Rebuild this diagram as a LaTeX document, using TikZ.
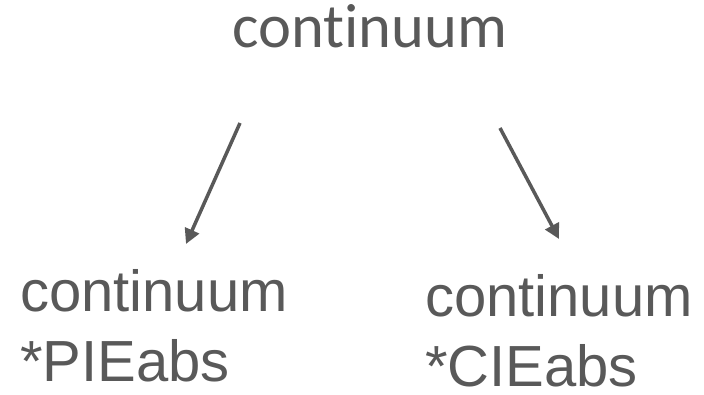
\documentclass[tikz,border=0pt]{standalone}
\usepackage{fontspec}
\setmainfont{Liberation Sans}
\newfontfamily\topfont[Ligatures={NoCommon,NoRequired,NoContextual}]{Carlito}
\newfontfamily\leaffont{Liberation Sans}
\usetikzlibrary{arrows.meta}
\definecolor{ink}{HTML}{595959}
\begin{document}
\begin{tikzpicture}[x=1pt,y=-1pt,
  toplabel/.style={inner sep=0pt,text=ink,font=\topfont\fontsize{62.5}{64}\selectfont},
  leaflabel/.style={inner sep=0pt,text=ink,align=left,text depth=0pt,font=\leaffont\fontsize{58}{70}\selectfont},
  link/.style={draw=ink,line width=3.5pt,-{Triangle[length=15pt,width=15pt]}}]
\useasboundingbox (0,0) rectangle (704,395);
\node[toplabel,anchor=base west] (root) at (232,48) {continuum};
\node[leaflabel,anchor=base west] (pie) at (20,381) {continuum\\*PIEabs};
\node[leaflabel,anchor=base west] (cie) at (425,386) {continuum\\*CIEabs};
\coordinate (a1) at (240,123);
\coordinate (a2) at (186,244);
\coordinate (b1) at (500,128);
\coordinate (b2) at (559,239);
\draw[link] (a1) -- (a2);
\draw[link] (b1) -- (b2);
\end{tikzpicture}
\end{document}
